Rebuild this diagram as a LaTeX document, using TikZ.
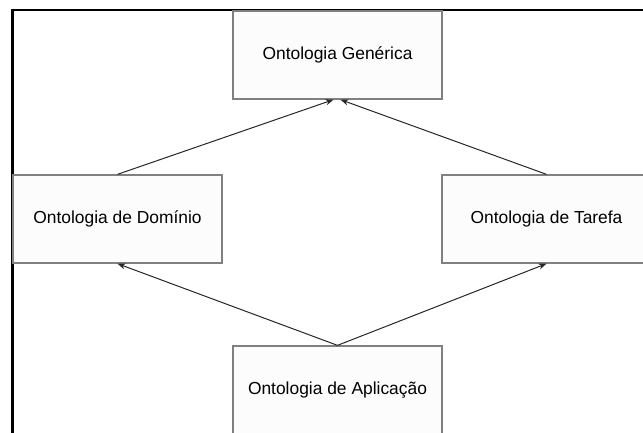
\documentclass[tikz,border=0pt]{standalone}
\usepackage{fontspec}
\setmainfont{Liberation Sans}
\usetikzlibrary{arrows.meta}
\definecolor{boxline}{gray}{0.5}
\definecolor{boxfill}{gray}{0.99}
\begin{document}
\begin{tikzpicture}[x=1pt, y=-1pt,
    ontobox/.style={draw=boxline, line width=1.3pt, fill=boxfill, minimum width=209pt, minimum height=88pt, font=\fontsize{17.4}{20}\selectfont},
    link/.style={-{Stealth[length=8pt, width=6pt]}, line width=1pt, black!85}]
            \useasboundingbox (0,0) rectangle (643,432);

            % Draw the frame
            \draw[line width=2.5pt] (12.5,440) -- (12.5,10) -- (650,10);

            % Draw the boxes
            \node[ontobox] (generica) at (337.5, 55) {Ontologia Genérica};
            \node[ontobox] (dominio) at (117.5, 219) {Ontologia de Domínio};
            \node[ontobox] (tarefa) at (546.5, 219) {Ontologia de Tarefa};
            \node[ontobox] (aplicacao) at (337.5, 390) {Ontologia de Aplicação};

            % Draw the arrows
            \draw[link] (dominio.north) -- ([xshift=-4pt]generica.south);
            \draw[link] (tarefa.north) -- ([xshift=3pt]generica.south);
            \draw[link] (aplicacao.north) -- (dominio.south);
            \draw[link] (aplicacao.north) -- (tarefa.south);
        \end{tikzpicture}
\end{document}
